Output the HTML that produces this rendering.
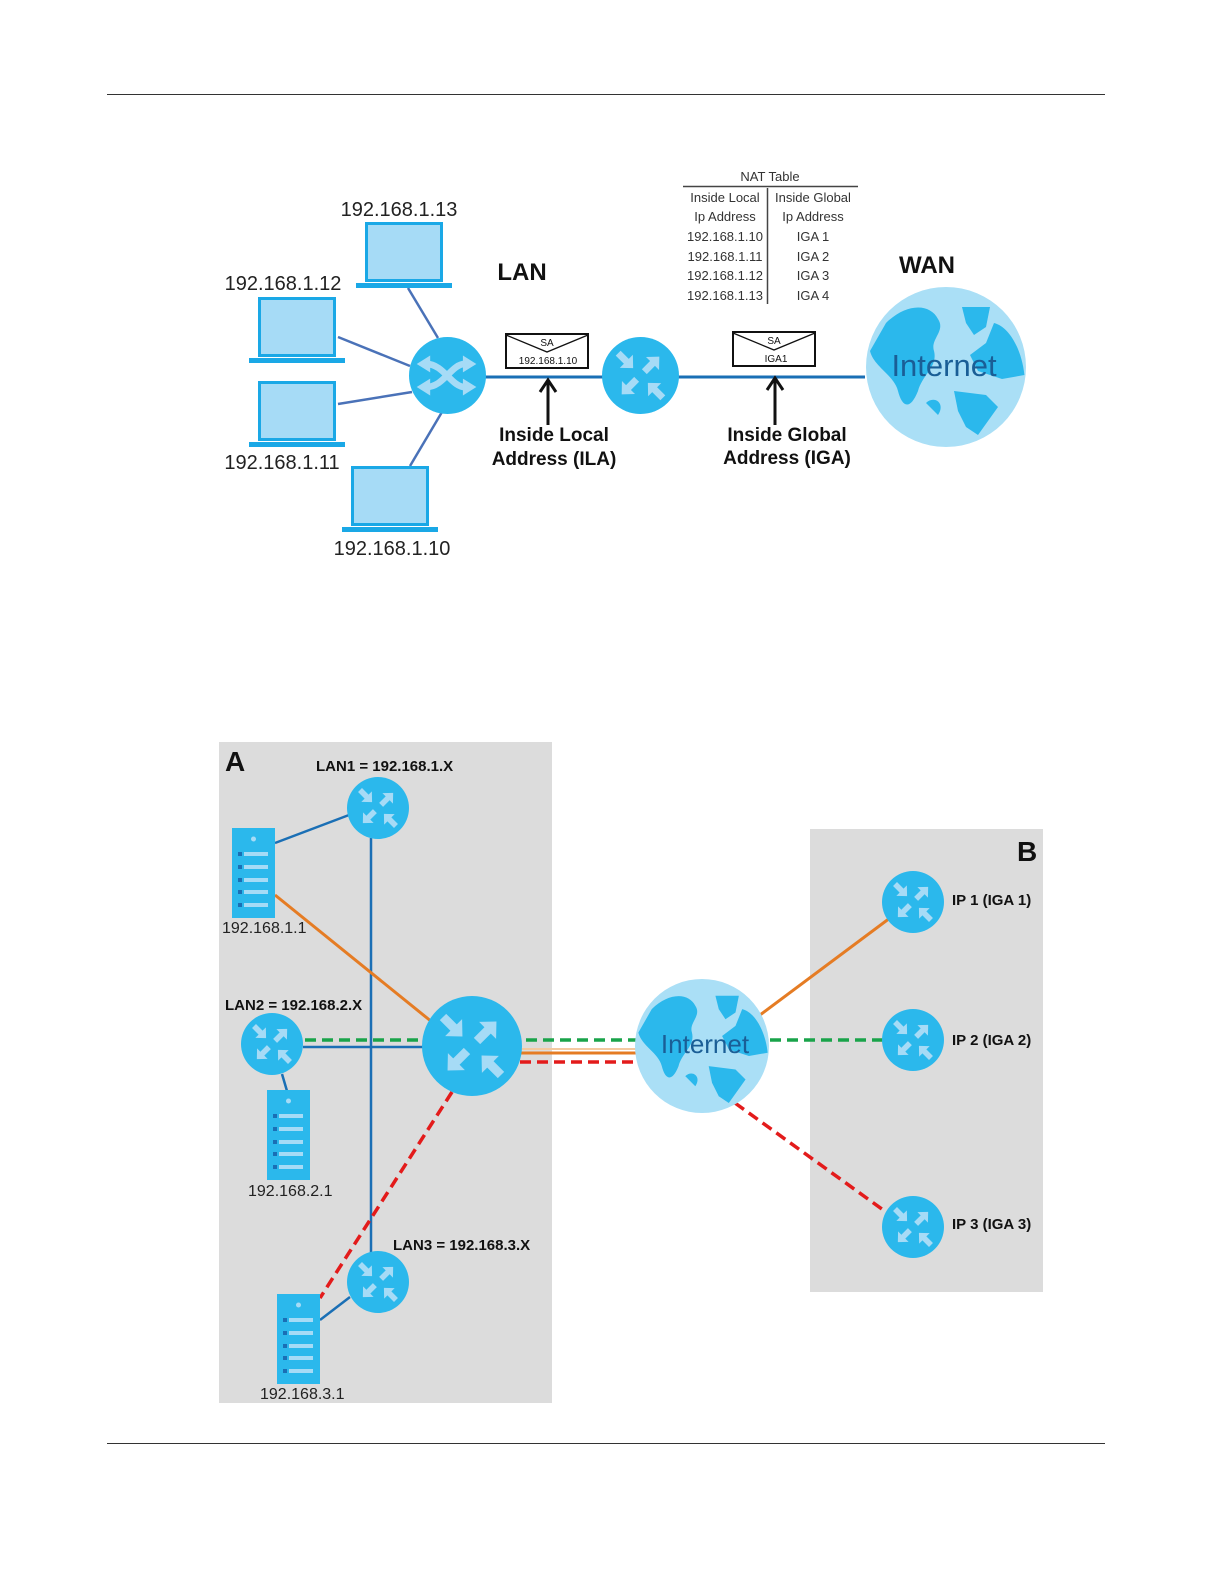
<!DOCTYPE html>
<html><head><meta charset="utf-8"><style>
html,body{margin:0;padding:0;background:#fff;}
svg{display:block;font-family:"Liberation Sans",sans-serif;}
</style></head><body>
<svg width="1224" height="1584" viewBox="0 0 1224 1584" xmlns="http://www.w3.org/2000/svg">
<defs>
<symbol id="rt" viewBox="-1 -1 2 2">
<circle cx="0" cy="0" r="1" fill="#2bb8ec"/>
<g fill="#a6dbf6">
<polygon transform="translate(-0.58,-0.58) rotate(45)" points="0,-0.09 0.3,-0.09 0.3,-0.24 0.55,0 0.3,0.24 0.3,0.09 0,0.09"/>
<polygon transform="translate(0.1,-0.1) rotate(-45)" points="0,-0.09 0.3,-0.09 0.3,-0.24 0.55,0 0.3,0.24 0.3,0.09 0,0.09"/>
<polygon transform="translate(-0.1,0.1) rotate(135)" points="0,-0.09 0.3,-0.09 0.3,-0.24 0.55,0 0.3,0.24 0.3,0.09 0,0.09"/>
<polygon transform="translate(0.58,0.58) rotate(-135)" points="0,-0.09 0.3,-0.09 0.3,-0.24 0.55,0 0.3,0.24 0.3,0.09 0,0.09"/>
</g>
</symbol>
<symbol id="sw" viewBox="-1 -1 2 2">
<circle cx="0" cy="0" r="1" fill="#2bb8ec"/>
<g fill="none" stroke="#a6dbf6" stroke-width="0.17">
<path d="M-0.55,-0.3 C-0.1,-0.3 0.1,0.3 0.45,0.3"/>
<path d="M-0.55,0.3 C-0.1,0.3 0.1,-0.3 0.45,-0.3"/>
</g>
<g fill="#a6dbf6">
<polygon points="0.4,-0.52 0.75,-0.3 0.4,-0.08"/>
<polygon points="0.4,0.08 0.75,0.3 0.4,0.52"/>
<polygon points="-0.45,-0.52 -0.8,-0.3 -0.45,-0.08"/>
<polygon points="-0.45,0.08 -0.8,0.3 -0.45,0.52"/>
</g>
</symbol>
<symbol id="globe" viewBox="-1 -1 2 2">
<circle cx="0" cy="0" r="1" fill="#aadff6"/>
<g fill="#2bb8ec">
<path d="M-0.75,-0.55 C-0.5,-0.8 -0.2,-0.8 -0.1,-0.6 C0,-0.45 -0.2,-0.35 -0.15,-0.2 C-0.1,0 -0.3,0.1 -0.35,0.3 C-0.45,0.55 -0.55,0.5 -0.6,0.3 C-0.65,0.1 -0.9,0 -0.95,-0.2 Z"/>
<path d="M0.2,-0.75 L0.55,-0.75 L0.5,-0.5 L0.35,-0.4 L0.25,-0.55 Z"/>
<path d="M0.6,-0.55 C0.8,-0.5 0.95,-0.2 0.98,0.1 L0.7,0.15 L0.4,0.05 L0.3,-0.15 L0.5,-0.3 Z"/>
<path d="M0.1,0.3 L0.5,0.35 L0.65,0.5 L0.4,0.85 L0.25,0.75 L0.15,0.55 Z"/>
<path d="M-0.25,0.45 C-0.15,0.35 0,0.45 -0.1,0.6 Z"/>
</g>
</symbol>
<symbol id="lap" viewBox="0 0 96 66">
<rect x="9" y="0" width="78" height="60" fill="#1aa8e6"/>
<rect x="12" y="3" width="72" height="54" fill="#a6dbf6"/>
<rect x="0" y="61" width="96" height="5" fill="#1aa8e6"/>
</symbol>
<symbol id="srv" viewBox="0 0 43 90">
<rect x="0" y="0" width="43" height="90" fill="#2bb8ec"/>
<circle cx="21.5" cy="11" r="2.5" fill="#a6dbf6"/>
<g fill="#1a6fb5"><rect x="6" y="24" width="4" height="4"/><rect x="6" y="37" width="4" height="4"/><rect x="6" y="50" width="4" height="4"/><rect x="6" y="62" width="4" height="4"/><rect x="6" y="75" width="4" height="4"/></g>
<g fill="#a6dbf6"><rect x="12" y="24" width="24" height="4"/><rect x="12" y="37" width="24" height="4"/><rect x="12" y="50" width="24" height="4"/><rect x="12" y="62" width="24" height="4"/><rect x="12" y="75" width="24" height="4"/></g>
</symbol>
</defs>

<line x1="107" y1="94.5" x2="1105" y2="94.5" stroke="#333" stroke-width="1"/>
<line x1="107" y1="1443.5" x2="1105" y2="1443.5" stroke="#333" stroke-width="1"/>

<!-- Top diagram -->
<g stroke="#4a72b8" stroke-width="2.5">
<line x1="408" y1="288" x2="438" y2="338"/>
<line x1="338" y1="337" x2="410" y2="366"/>
<line x1="338" y1="404" x2="412" y2="392"/>
<line x1="410" y1="466" x2="442" y2="412"/>
</g>
<line x1="485" y1="377" x2="865" y2="377" stroke="#1a6fb5" stroke-width="3"/>
<use href="#lap" x="356" y="222" width="96" height="66"/>
<use href="#lap" x="249" y="297" width="96" height="66"/>
<use href="#lap" x="249" y="381" width="96" height="66"/>
<use href="#lap" x="342" y="466" width="96" height="66"/>
<use href="#sw" x="409" y="337" width="77" height="77"/>
<use href="#rt" x="602" y="337" width="77" height="77"/>
<use href="#globe" x="865" y="287" width="162" height="160"/>
<text x="944" y="376" font-size="31" fill="#1a5e96" text-anchor="middle">Internet</text>

<g font-size="20" fill="#222">
<text x="399" y="216" text-anchor="middle">192.168.1.13</text>
<text x="283" y="290" text-anchor="middle">192.168.1.12</text>
<text x="282" y="469" text-anchor="middle">192.168.1.11</text>
<text x="392" y="555" text-anchor="middle">192.168.1.10</text>
</g>
<g font-size="24" font-weight="bold" fill="#111">
<text x="522" y="280" text-anchor="middle">LAN</text>
<text x="927" y="273" text-anchor="middle">WAN</text>
</g>
<!-- envelopes -->
<g fill="#fff" stroke="#111" stroke-width="2">
<rect x="506" y="334" width="82" height="34"/>
<rect x="733" y="332" width="82" height="34"/>
</g>
<g fill="none" stroke="#111" stroke-width="1.3">
<polyline points="506,335 547,352 588,335"/>
<polyline points="733,333 774,350 815,333"/>
</g>
<g font-size="10" fill="#111" text-anchor="middle">
<text x="547" y="346">SA</text>
<text x="548" y="364">192.168.1.10</text>
<text x="774" y="344">SA</text>
<text x="776" y="362">IGA1</text>
</g>
<g stroke="#111" stroke-width="3" fill="none">
<line x1="548" y1="425" x2="548" y2="382"/>
<polyline points="540,392 548,380 556,392"/>
<line x1="775" y1="425" x2="775" y2="380"/>
<polyline points="767,390 775,378 783,390"/>
</g>
<g font-size="19" font-weight="bold" fill="#111" text-anchor="middle">
<text x="554" y="441">Inside Local</text>
<text x="554" y="465">Address (ILA)</text>
<text x="787" y="441">Inside Global</text>
<text x="787" y="464">Address (IGA)</text>
</g>
<!-- NAT table -->
<text x="770" y="181" font-size="13" fill="#333" text-anchor="middle">NAT Table</text>
<line x1="683" y1="186.5" x2="858" y2="186.5" stroke="#444" stroke-width="1.5"/>
<line x1="767.5" y1="188" x2="767.5" y2="304" stroke="#444" stroke-width="1.5"/>
<g font-size="13" fill="#333" text-anchor="middle">
<text x="725" y="202">Inside Local</text><text x="813" y="202">Inside Global</text>
<text x="725" y="221">Ip Address</text><text x="813" y="221">Ip Address</text>
<text x="725" y="241">192.168.1.10</text><text x="813" y="241">IGA 1</text>
<text x="725" y="261">192.168.1.11</text><text x="813" y="261">IGA 2</text>
<text x="725" y="280">192.168.1.12</text><text x="813" y="280">IGA 3</text>
<text x="725" y="300">192.168.1.13</text><text x="813" y="300">IGA 4</text>
</g>

<!-- Bottom diagram -->
<rect x="219" y="742" width="333" height="661" fill="#dcdcdc"/>
<rect x="810" y="829" width="233" height="463" fill="#dcdcdc"/>
<g stroke="#1a6fb5" stroke-width="2.5">
<line x1="371" y1="838" x2="371" y2="1262"/>
<line x1="275" y1="843" x2="349" y2="815"/>
<line x1="303" y1="1047" x2="425" y2="1047"/>
<line x1="282" y1="1074" x2="287" y2="1091"/>
<line x1="350" y1="1297" x2="320" y2="1320"/>
</g>
<g stroke="#e57c24" stroke-width="3">
<line x1="275" y1="895" x2="432" y2="1022"/>
<line x1="520" y1="1053" x2="636" y2="1053"/>
<line x1="760" y1="1015" x2="890" y2="918"/>
</g>
<line x1="520" y1="1049" x2="636" y2="1049" stroke="#f3c9a0" stroke-width="2"/>
<g stroke="#19a34a" stroke-width="3.5" stroke-dasharray="11,6">
<line x1="305" y1="1040" x2="640" y2="1040"/>
<line x1="770" y1="1040" x2="884" y2="1040"/>
</g>
<g stroke="#e31b1b" stroke-width="3.5" stroke-dasharray="11,6">
<line x1="520" y1="1062" x2="640" y2="1062"/>
<line x1="452" y1="1092" x2="320" y2="1298"/>
<line x1="735" y1="1103" x2="886" y2="1212"/>
</g>
<use href="#srv" x="232" y="828" width="43" height="90"/>
<use href="#srv" x="267" y="1090" width="43" height="90"/>
<use href="#srv" x="277" y="1294" width="43" height="90"/>
<use href="#rt" x="347" y="777" width="62" height="62"/>
<use href="#rt" x="241" y="1013" width="62" height="62"/>
<use href="#rt" x="347" y="1251" width="62" height="62"/>
<use href="#rt" x="422" y="996" width="100" height="100"/>
<use href="#rt" x="882" y="871" width="62" height="62"/>
<use href="#rt" x="882" y="1009" width="62" height="62"/>
<use href="#rt" x="882" y="1196" width="62" height="62"/>
<use href="#globe" x="635" y="979" width="134" height="134"/>
<text x="705" y="1053" font-size="26" fill="#1a5e96" text-anchor="middle">Internet</text>

<text x="225" y="771" font-size="28" font-weight="bold" fill="#111">A</text>
<text x="1017" y="861" font-size="28" font-weight="bold" fill="#111">B</text>
<g font-size="15" font-weight="bold" fill="#111">
<text x="316" y="771">LAN1 = 192.168.1.X</text>
<text x="225" y="1010">LAN2 = 192.168.2.X</text>
<text x="393" y="1250">LAN3 = 192.168.3.X</text>
<text x="952" y="905">IP 1 (IGA 1)</text>
<text x="952" y="1045">IP 2 (IGA 2)</text>
<text x="952" y="1229">IP 3 (IGA 3)</text>
</g>
<g font-size="16" fill="#222">
<text x="222" y="933">192.168.1.1</text>
<text x="248" y="1196">192.168.2.1</text>
<text x="260" y="1399">192.168.3.1</text>
</g>
</svg>
</body></html>
